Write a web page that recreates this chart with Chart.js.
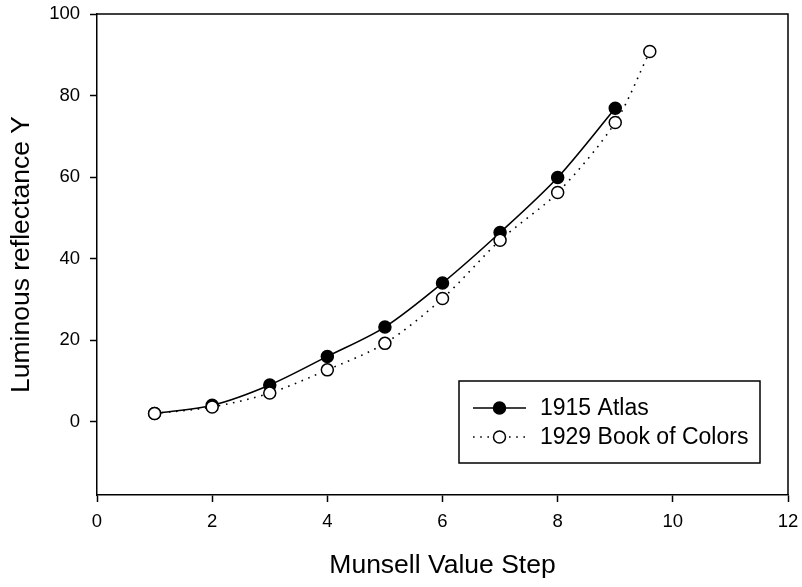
<!DOCTYPE html>
<html>
<head>
<meta charset="utf-8">
<script src="https://cdn.jsdelivr.net/npm/chart.js@4/dist/chart.umd.min.js"></script>
<style>
  html, body { margin: 0; padding: 0; background: #fff; }
  #wrap { width: 802px; height: 587px; }
</style>
</head>
<body>
<div id="wrap"><canvas id="c" width="802" height="587"></canvas></div>
<script>
// Munsell value steps and measured luminous reflectance
const atlasSteps = [1, 2, 3, 4, 5, 6, 7, 8, 9];
const atlasY     = [2.0, 4.0, 9.0, 16.0, 23.2, 34.0, 46.4, 59.9, 76.9];
const bookSteps  = [1, 2, 3, 4, 5, 6, 7, 8, 9, 9.6];
const bookY      = [2.0, 3.6, 7.0, 12.7, 19.2, 30.2, 44.5, 56.2, 73.4, 90.8];
const seriesNames = ['1915 Atlas', '1929 Book of Colors'];
const xTicks = [0, 2, 4, 6, 8, 10, 12];
const yTicks = [0, 20, 40, 60, 80, 100];

const FONT = '"Liberation Sans", Arial, sans-serif';
const pts = (xs, ys) => xs.map((x, i) => ({ x: x, y: ys[i] }));

// Frame on top/right and the boxed legend inside the plot area
const framePlugin = {
  id: 'frameAndLegend',
  afterDraw(chart) {
    const { ctx, chartArea: a } = chart;
    ctx.save();
    ctx.strokeStyle = '#000';
    ctx.lineWidth = 1.5;
    ctx.beginPath();
    ctx.moveTo(a.left, a.top);
    ctx.lineTo(a.right, a.top);
    ctx.lineTo(a.right, a.bottom);
    ctx.stroke();

    // legend box
    const bx = a.left + 362, by = a.top + 367;
    const bw = 301, bh = 82;
    ctx.fillStyle = '#fff';
    ctx.fillRect(bx, by, bw, bh);
    ctx.strokeRect(bx, by, bw, bh);

    const rows = [by + 27, by + 56];
    chart.data.datasets.forEach((ds) => {
      const r = rows[ds.legendRow];
      const x0 = bx + 14, x1 = bx + 67, xm = (x0 + x1) / 2;
      ctx.save();
      ctx.strokeStyle = ds.borderColor;
      ctx.lineWidth = ds.borderWidth;
      ctx.setLineDash(ds.borderDash || []);
      ctx.beginPath();
      ctx.moveTo(x0, r);
      ctx.lineTo(x1, r);
      ctx.stroke();
      ctx.setLineDash([]);
      ctx.beginPath();
      ctx.arc(xm, r, ds.pointRadius, 0, Math.PI * 2);
      ctx.fillStyle = ds.pointBackgroundColor;
      ctx.fill();
      ctx.lineWidth = ds.pointBorderWidth;
      ctx.strokeStyle = ds.pointBorderColor;
      ctx.stroke();
      ctx.restore();

      ctx.fillStyle = '#000';
      ctx.font = '23px ' + FONT;
      ctx.textBaseline = 'middle';
      ctx.textAlign = 'left';
      ctx.fillText(ds.label, bx + 81, r + 1);
    });
    ctx.restore();
  }
};

new Chart(document.getElementById('c'), {
  type: 'scatter',
  data: {
    datasets: [
      {
        label: seriesNames[1],
        legendRow: 1,
        data: pts(bookSteps, bookY),
        showLine: true,
        tension: 0.3,
        borderColor: '#000',
        borderWidth: 1.6,
        borderDash: [1.6, 5.6],
        pointRadius: 6,
        pointBackgroundColor: '#fff',
        pointBorderColor: '#000',
        pointBorderWidth: 1.5,
        order: 0
      },
      {
        label: seriesNames[0],
        legendRow: 0,
        data: pts(atlasSteps, atlasY),
        showLine: true,
        tension: 0.3,
        borderColor: '#000',
        borderWidth: 1.6,
        pointRadius: 6,
        pointBackgroundColor: '#000',
        pointBorderColor: '#000',
        pointBorderWidth: 1.5,
        order: 1
      }
    ]
  },
  options: {
    responsive: false,
    animation: false,
    devicePixelRatio: 1,
    layout: { padding: { top: 14, right: 14, left: 0, bottom: 0 } },
    plugins: { legend: { display: false }, tooltip: { enabled: false } },
    scales: {
      x: {
        type: 'linear',
        min: 0, max: 12,
        afterBuildTicks: (s) => { s.ticks = xTicks.map(v => ({ value: v })); },
        afterFit: (s) => { s.height = 92; s.paddingLeft = 0; s.paddingRight = 0; },
        grid: { drawOnChartArea: false, drawTicks: true, tickLength: 7, tickColor: '#000', tickWidth: 1.5 },
        border: { display: true, color: '#000', width: 1.5 },
        ticks: { color: '#000', font: { family: FONT, size: 18.5 }, padding: 9, maxRotation: 0 },
        title: { display: true, text: 'Munsell Value Step', color: '#000',
                 font: { family: FONT, size: 26.5 }, padding: { top: 0, bottom: 5 } }
      },
      y: {
        type: 'linear',
        min: -18, max: 100,
        afterBuildTicks: (s) => { s.ticks = yTicks.map(v => ({ value: v })); },
        afterFit: (s) => { s.width = 97; s.paddingTop = 0; s.paddingBottom = 0; },
        grid: { drawOnChartArea: false, drawTicks: true, tickLength: 7, tickColor: '#000', tickWidth: 1.5 },
        border: { display: true, color: '#000', width: 1.5 },
        ticks: { color: '#000', font: { family: FONT, size: 18.5 }, padding: 10 },
        title: { display: true, text: 'Luminous reflectance Y', color: '#000',
                 font: { family: FONT, size: 26.5 }, padding: { top: 6, bottom: 0 } }
      }
    }
  },
  plugins: [framePlugin]
});
</script>
</body>
</html>
